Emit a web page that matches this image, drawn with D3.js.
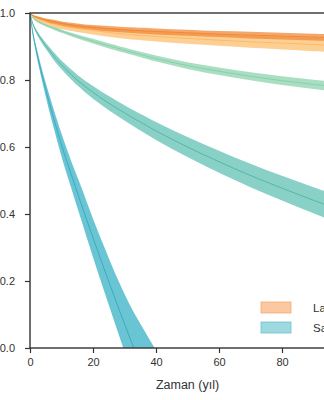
<!DOCTYPE html>
<html><head><meta charset="utf-8">
<script src="https://cdn.jsdelivr.net/npm/d3@7"></script>
<style>html,body{margin:0;padding:0;background:#fff;overflow:hidden}svg{display:block}</style>
</head><body>
<script>
// ---- data ----
const tSteep = [0,1,2,4,6,8,10,13,16,20,24,28,32,36,40,44];
const steepMean  = [1,0.935,0.888,0.807,0.736,0.669,0.606,0.5205,0.437,0.329,0.224,0.122,0.023,-0.073,-0.167,-0.26];
const steepLower = [1,0.928,0.876,0.79,0.712,0.64,0.572,0.48,0.39,0.271,0.157,0.045,-0.065,-0.173,-0.277,-0.38];
const steepUpper = [1,0.942,0.9,0.825,0.76,0.698,0.64,0.56,0.487,0.386,0.292,0.202,0.123,0.057,-0.007,-0.07];

const tLong = [0,1,2,4,6,8,10,15,20,25,30,40,50,60,70,80,90,100];
const midMean  = [1,0.965,0.945,0.915,0.89,0.866,0.845,0.8,0.763,0.731,0.702,0.648,0.6,0.556,0.515,0.477,0.441,0.407];
const midLower = [1,0.961,0.939,0.907,0.88,0.854,0.832,0.784,0.744,0.71,0.679,0.621,0.57,0.523,0.48,0.44,0.402,0.366];
const midUpper = [1,0.969,0.951,0.923,0.9,0.878,0.858,0.816,0.782,0.752,0.725,0.675,0.63,0.589,0.55,0.514,0.48,0.448];

const mintMean  = [1,0.985,0.978,0.968,0.96,0.953,0.946,0.93,0.916,0.902,0.889,0.864,0.843,0.826,0.811,0.798,0.787,0.777];
const mintLower = [1,0.983,0.975,0.964,0.956,0.948,0.941,0.924,0.909,0.894,0.881,0.855,0.833,0.815,0.799,0.785,0.773,0.762];
const mintUpper = [1,0.987,0.981,0.972,0.964,0.958,0.951,0.936,0.923,0.91,0.897,0.873,0.853,0.837,0.823,0.811,0.801,0.792];

const lightOrMean  = [1,0.99,0.985,0.977,0.971,0.966,0.962,0.954,0.948,0.942,0.937,0.93,0.924,0.919,0.914,0.91,0.906,0.902];
const lightOrLower = [1,0.987,0.98,0.97,0.963,0.957,0.952,0.943,0.936,0.929,0.923,0.915,0.908,0.902,0.896,0.891,0.886,0.882];
const lightOrUpper = [1,0.993,0.99,0.984,0.979,0.975,0.972,0.965,0.96,0.955,0.951,0.945,0.94,0.936,0.932,0.929,0.926,0.922];

const darkOrMean  = [1,0.992,0.988,0.982,0.977,0.973,0.969,0.962,0.957,0.953,0.95,0.945,0.941,0.937,0.934,0.931,0.928,0.925];
const darkOrLower = [1,0.99,0.985,0.978,0.972,0.967,0.963,0.955,0.95,0.945,0.942,0.936,0.932,0.928,0.924,0.921,0.918,0.915];
const darkOrUpper = [1,0.994,0.991,0.986,0.982,0.979,0.975,0.969,0.964,0.961,0.958,0.954,0.95,0.946,0.944,0.941,0.938,0.935];

const xTicks = [0,20,40,60,80];
const yTicks = [0,0.2,0.4,0.6,0.8,1.0];
const legendLabels = ["Laboratuvar","Saha"];
const xLabel = "Zaman (yıl)";

// ---- layout ----
const W = 324, H = 400;
const svg = d3.select("body").append("svg").attr("width",W).attr("height",H);
const x = d3.scaleLinear().domain([0,100]).range([30,345]);
const y = d3.scaleLinear().domain([0,1]).range([348,13]);

svg.append("defs").append("clipPath").attr("id","clip")
  .append("rect").attr("x",30).attr("y",13).attr("width",315).attr("height",335);

const series = [
  {t:tSteep, mean:steepMean, lo:steepLower, hi:steepUpper, fill:"#3fb3c6", fo:0.78, line:"#2aa0b5"},
  {t:tLong, mean:midMean, lo:midLower, hi:midUpper, fill:"#5bbfb1", fo:0.72, line:"#3fab9b"},
  {t:tLong, mean:mintMean, lo:mintLower, hi:mintUpper, fill:"#8ed3ad", fo:0.75, line:"#7cc99f"},
  {t:tLong, mean:lightOrMean, lo:lightOrLower, hi:lightOrUpper, fill:"#fdbf6f", fo:0.75, line:"#fbb05a"},
  {t:tLong, mean:darkOrMean, lo:darkOrLower, hi:darkOrUpper, fill:"#f08a3a", fo:0.75, line:"#ec7d26"}
];

const curve = d3.curveCatmullRom.alpha(0.5);
const g = svg.append("g").attr("clip-path","url(#clip)");
series.forEach(s=>{
  const rows = s.t.map((t,i)=>({t, m:s.mean[i], lo:s.lo[i], hi:s.hi[i]}));
  g.append("path").datum(rows)
    .attr("d", d3.area().curve(curve).x(d=>x(d.t)).y0(d=>y(d.lo)).y1(d=>y(d.hi)))
    .attr("fill", s.fill).attr("fill-opacity", s.fo).attr("stroke","none");
  g.append("path").datum(rows)
    .attr("d", d3.line().curve(curve).x(d=>x(d.t)).y(d=>y(d.m)))
    .attr("fill","none").attr("stroke", s.line).attr("stroke-width",1).attr("stroke-opacity",0.7);
});

// axes
const font = "'Liberation Sans', Arial, sans-serif";
const xa = svg.append("g").attr("transform","translate(0,348)")
  .call(d3.axisBottom(x).tickValues(xTicks).tickFormat(d3.format("d")).tickSize(5).tickPadding(5));
const ya = svg.append("g").attr("transform","translate(30,0)")
  .call(d3.axisLeft(y).tickValues(yTicks).tickFormat(d3.format(".1f")).tickSize(5).tickPadding(10));
[xa,ya].forEach(a=>{
  a.select(".domain").remove();
  a.selectAll("line").attr("stroke","#333").attr("stroke-width",1.2);
  a.selectAll("text").attr("fill","#333").style("font-family",font).style("font-size","11px");
});
// frame
svg.append("rect").attr("x",30).attr("y",13).attr("width",315).attr("height",335)
  .attr("fill","none").attr("stroke","#333").attr("stroke-width",1.4);

svg.append("text").attr("x",(x(0)+x(100))/2).attr("y",389).attr("text-anchor","middle")
  .attr("fill","#333").style("font-family",font).style("font-size","12.5px").text(xLabel);

// legend
const legColors = ["#f8a464","#5ebfca"];
legendLabels.forEach((l,i)=>{
  const ly = 302 + i*20;
  svg.append("rect").attr("x",261).attr("y",ly).attr("width",30).attr("height",11)
    .attr("fill",legColors[i]).attr("fill-opacity",0.6).attr("stroke",legColors[i]).attr("stroke-opacity",0.7);
  svg.append("text").attr("x",313).attr("y",ly+9.5).attr("fill","#333")
    .style("font-family",font).style("font-size","11.5px").text(l);
});
</script>
</body></html>
